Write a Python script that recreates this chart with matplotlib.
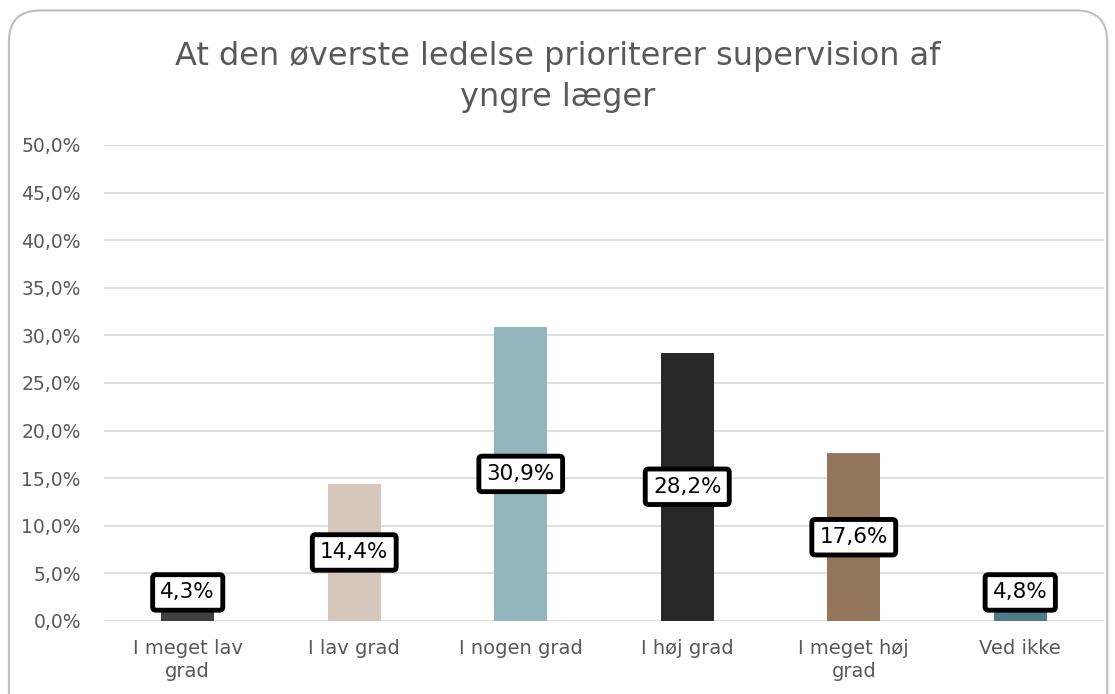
import matplotlib.pyplot as plt
from matplotlib.patches import FancyBboxPatch
from matplotlib.ticker import FuncFormatter
import numpy as np

categories = ['I meget lav\ngrad', 'I lav grad', 'I nogen grad', 'I høj grad', 'I meget høj\ngrad', 'Ved ikke']
values = [4.3, 14.4, 30.9, 28.2, 17.6, 4.8]
colors = ['#404040', '#d6c7bc', '#93b6be', '#282828', '#94765d', '#4f7c88']
title = 'At den øverste ledelse prioriterer supervision af\nyngre læger'

plt.rcParams['font.family'] = ['DejaVu Sans']

fig = plt.figure(figsize=(11.15, 6.94), dpi=100)

# rounded chart frame
frame = FancyBboxPatch((0.008, -0.05), 0.985, 1.035, boxstyle='round,pad=0,rounding_size=0.028',
                       transform=fig.transFigure, facecolor='none', edgecolor='#bfbfbf',
                       linewidth=1.5, mutation_aspect=1.6, zorder=-1)
fig.patches.append(frame)

ax = fig.add_axes([0.0937, 1 - 621 / 694, 0.9897 - 0.0937, (621 - 145) / 694])
x = np.arange(len(categories))
ax.bar(x, values, width=0.32, color=colors, zorder=3)

ax.set_ylim(0, 50)
ax.set_xlim(-0.5, len(categories) - 0.5)
ax.set_yticks(np.arange(0, 51, 5))
ax.yaxis.set_major_formatter(FuncFormatter(lambda v, p: '{:.1f}%'.format(v).replace('.', ',')))
ax.grid(axis='y', color='#d9d9d9', linewidth=1.2, zorder=0)
for s in ax.spines.values():
    s.set_visible(False)
ax.tick_params(axis='y', length=0, labelsize=13.5, colors='#595959', pad=17)
ax.tick_params(axis='x', length=0, labelsize=14, colors='#595959', pad=13)
ax.set_xticks(x)
ax.set_xticklabels(categories, linespacing=1.25)
ax.set_facecolor('none')

for xi, v in zip(x, values):
    ypos = max(v / 2, 3.0)
    ax.text(xi, ypos, '{:.1f}%'.format(v).replace('.', ','), ha='center', va='center',
            fontsize=15.5, color='black', zorder=5,
            bbox=dict(boxstyle='round,pad=0.36,rounding_size=0.15', facecolor='white',
                      edgecolor='black', linewidth=3.5))

fig.text(0.5, 0.889, title, ha='center', va='center', fontsize=23, color='#595959', linespacing=1.45)

fig.savefig('out.png', dpi=100)
